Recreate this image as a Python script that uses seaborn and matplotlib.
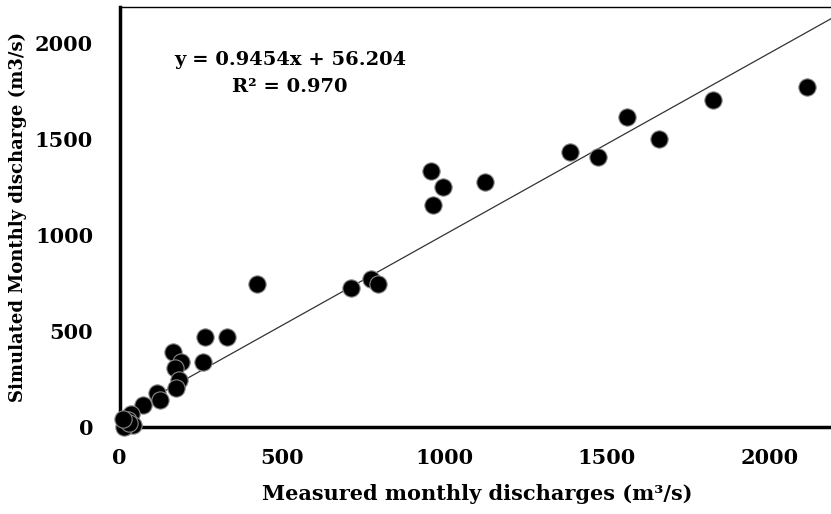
import numpy as np
import pandas as pd
import matplotlib
matplotlib.use("Agg")
import matplotlib.pyplot as plt
import seaborn as sns

# measured vs simulated monthly discharge (m3/s)
measured = [2115, 1826, 1562, 1660, 1472, 1386, 1124, 958, 995, 965,
            423, 712, 774, 795, 263, 331, 165, 189, 257, 171,
            183, 174, 115, 125, 72, 35, 26, 20, 42, 14, 30, 10]
simulated = [1771, 1703, 1615, 1500, 1406, 1432, 1276, 1333, 1250, 1156,
             745, 724, 771, 745, 469, 469, 391, 339, 339, 307,
             245, 203, 177, 141, 115, 68, 36, 5, 8, 2, 20, 40]

slope = 0.9454
intercept = 56.204
r2 = 0.970

x_ticks = [0, 500, 1000, 1500, 2000]
y_ticks = [0, 500, 1000, 1500, 2000]

df = pd.DataFrame({"measured": measured, "simulated": simulated})

sns.set_style("white")
plt.rcParams["font.family"] = ["DejaVu Serif"]
plt.rcParams["font.weight"] = "bold"
plt.rcParams["text.color"] = "black"
plt.rcParams["axes.labelcolor"] = "black"
plt.rcParams["xtick.color"] = "black"
plt.rcParams["ytick.color"] = "black"

fig = plt.figure(figsize=(8.31, 5.14), dpi=100)
ax = fig.add_axes([119.5 / 831, 87 / 514, 715 / 831, 420 / 514])

# trend line
line_x = np.array([0, 2200])
ax.plot(line_x, slope * line_x + intercept, color="#333333", lw=0.9, zorder=2)

sns.scatterplot(data=df, x="measured", y="simulated", ax=ax, s=155,
                color="black", edgecolor="#888888", linewidth=0.8,
                clip_on=False, zorder=3, legend=False)

ax.set_xlim(0, 2200)
ax.set_ylim(0, 2187)
ax.set_xticks(x_ticks)
ax.set_yticks(y_ticks)
ax.tick_params(axis="both", direction="out", length=5, width=2,
               labelsize=15, color="black", labelcolor="black")
ax.tick_params(axis="y", pad=14)
ax.tick_params(axis="x", pad=10)
for lab in ax.get_xticklabels() + ax.get_yticklabels():
    lab.set_fontweight("bold")

for side in ["left", "bottom"]:
    ax.spines[side].set_linewidth(2.5)
    ax.spines[side].set_color("black")
ax.spines["top"].set_linewidth(1)
ax.spines["top"].set_color("black")
ax.spines["right"].set_visible(False)

ax.set_xlabel("Measured monthly discharges (m³/s)", fontsize=15,
              fontweight="bold", labelpad=12, color="black")
ax.set_ylabel("Simulated Monthly discharge (m3/s)", fontsize=13,
              fontweight="bold", labelpad=6, color="black")

fig.text(290 / 831, 1 - 60 / 514, f"y = {slope}x + {intercept}",
         ha="center", va="center", fontsize=14, fontweight="bold")
fig.text(290 / 831, 1 - 87 / 514, f"R² = {r2:.3f}",
         ha="center", va="center", fontsize=14, fontweight="bold")

fig.savefig("out.png", dpi=100)
